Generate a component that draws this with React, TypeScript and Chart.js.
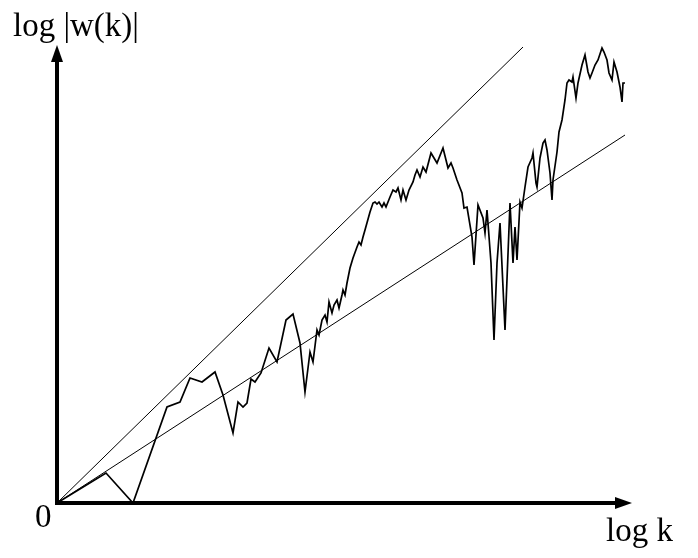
import React, { useEffect, useRef } from "react";
import { Chart, registerables } from "chart.js";

Chart.register(...registerables);

// Measured spectrum: log k against log |w(k)|
const logK = [
  0, 49, 76, 110, 123, 133, 145, 158, 166, 176, 181, 186, 190, 194, 198, 204, 212, 220, 229, 236,
  243, 248, 253, 256, 260, 262, 265, 268, 270, 272, 275, 277, 280, 282, 285, 286, 288, 290, 293, 296,
  300, 302, 304, 306, 308, 313, 316, 318, 320, 322, 325, 327, 329, 333, 336, 339, 341, 344, 346, 349,
  352, 356, 358, 360, 363, 366, 369, 374, 377, 380, 386, 389, 391, 394, 396, 400, 405, 407, 410, 415,
  417, 421, 426, 428, 430, 434, 437, 440, 443, 448, 453, 456, 458, 460, 463, 465, 468, 471, 475, 476,
  479, 480, 483, 486, 488, 490, 493, 495, 496, 500, 502, 505, 508, 510, 512, 515, 516, 519, 521, 525,
  528, 531, 533, 535, 538, 541, 545, 547, 550, 552, 555, 557, 560, 563, 565, 566, 568,
];
const logW = [
  0, 30, 0, 96, 101, 125, 121, 131, 108, 70, 101, 96, 100, 124, 121, 130, 155, 141, 183, 189,
  160, 111, 151, 141, 173, 168, 183, 188, 181, 201, 190, 198, 203, 195, 208, 213, 208, 220, 235, 245,
  256, 261, 258, 266, 273, 291, 300, 301, 299, 301, 296, 300, 296, 306, 313, 311, 315, 303, 313, 303,
  313, 321, 328, 333, 326, 336, 331, 350, 345, 340, 355, 343, 335, 340, 335, 323, 310, 295, 296, 266,
  238, 298, 285, 270, 293, 240, 163, 240, 280, 173, 300, 240, 276, 243, 301, 295, 316, 336, 345, 350,
  320, 316, 345, 360, 363, 353, 330, 303, 323, 351, 371, 383, 403, 420, 423, 421, 426, 405, 420, 438,
  448, 431, 425, 430, 438, 443, 455, 451, 443, 430, 423, 441, 431, 416, 401, 420, 420,
];

// Two bounding power laws through the origin
const steepK = [0, 466];
const steepW = [0, 456];
const shallowK = [0, 568];
const shallowW = [0, 368];

const X_MAX = 575;
const Y_MAX = 458;

const yTitle = "log |w(k)|";
const xTitle = "log k";
const originLabel = "0";

const pairs = (xs: number[], ys: number[]) => xs.map((x, i) => ({ x, y: ys[i] }));

const axesPlugin = {
  id: "arrowAxes",
  afterDraw(chart: any) {
    const { ctx, scales } = chart;
    const x0 = scales.x.getPixelForValue(0);
    const y0 = scales.y.getPixelForValue(0);
    const xEnd = scales.x.getPixelForValue(X_MAX);
    const yEnd = scales.y.getPixelForValue(Y_MAX);
    const head = 17;
    const half = 6;
    ctx.save();
    ctx.strokeStyle = "#000";
    ctx.fillStyle = "#000";
    ctx.lineWidth = 4;
    ctx.lineCap = "butt";
    // vertical axis
    ctx.beginPath();
    ctx.moveTo(x0, y0 + 2);
    ctx.lineTo(x0, yEnd + head);
    ctx.stroke();
    ctx.beginPath();
    ctx.moveTo(x0, yEnd);
    ctx.lineTo(x0 - half, yEnd + head);
    ctx.lineTo(x0 + half, yEnd + head);
    ctx.closePath();
    ctx.fill();
    // horizontal axis
    ctx.beginPath();
    ctx.moveTo(x0 - 2, y0);
    ctx.lineTo(xEnd - head, y0);
    ctx.stroke();
    ctx.beginPath();
    ctx.moveTo(xEnd, y0);
    ctx.lineTo(xEnd - head, y0 - half);
    ctx.lineTo(xEnd - head, y0 + half);
    ctx.closePath();
    ctx.fill();
    // labels
    ctx.font = "33px 'Liberation Serif', 'Times New Roman', serif";
    ctx.textBaseline = "alphabetic";
    ctx.textAlign = "left";
    ctx.fillText(yTitle, 13, 36);
    ctx.fillText(originLabel, x0 - 22, y0 + 24);
    ctx.fillText(xTitle, xEnd - 26, y0 + 38);
    ctx.restore();
  },
};

export default function App() {
  const canvasRef = useRef<HTMLCanvasElement | null>(null);

  useEffect(() => {
    const canvas = canvasRef.current;
    if (!canvas) return;
    const chart = new Chart(canvas, {
      type: "scatter",
      data: {
        datasets: [
          {
            data: pairs(steepK, steepW),
            showLine: true,
            borderColor: "#000",
            borderWidth: 1,
            pointRadius: 0,
          },
          {
            data: pairs(shallowK, shallowW),
            showLine: true,
            borderColor: "#000",
            borderWidth: 1,
            pointRadius: 0,
          },
          {
            data: pairs(logK, logW),
            showLine: true,
            borderColor: "#000",
            borderWidth: 1.7,
            pointRadius: 0,
            tension: 0,
          },
        ],
      },
      options: {
        animation: false,
        responsive: false,
        maintainAspectRatio: false,
        devicePixelRatio: 1,
        layout: { padding: { left: 57, right: 66, top: 45, bottom: 55 } },
        scales: {
          x: { type: "linear", min: 0, max: X_MAX, display: false },
          y: { type: "linear", min: 0, max: Y_MAX, display: false },
        },
        plugins: { legend: { display: false }, tooltip: { enabled: false } },
      },
      plugins: [axesPlugin],
    });
    return () => chart.destroy();
  }, []);

  return (
    <div style={{ position: "fixed", left: 0, top: 0, width: 698, height: 558, background: "#fff" }}>
      <canvas ref={canvasRef} width={698} height={558} style={{ display: "block" }} />
    </div>
  );
}
